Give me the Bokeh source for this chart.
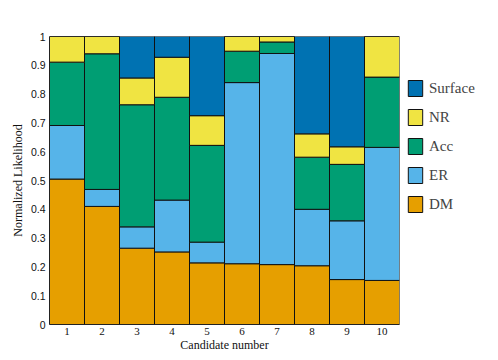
from bokeh.plotting import figure
from bokeh.models import Legend, LegendItem, FixedTicker, ColumnDataSource
from bokeh.embed import file_html
from bokeh.resources import INLINE

candidates = [1, 2, 3, 4, 5, 6, 7, 8, 9, 10]
series = ["DM", "ER", "Acc", "NR", "Surface"]
DM = [0.505, 0.410, 0.265, 0.252, 0.214, 0.211, 0.208, 0.204, 0.156, 0.153]
ER = [0.186, 0.059, 0.074, 0.180, 0.072, 0.629, 0.733, 0.196, 0.204, 0.462]
Acc = [0.220, 0.471, 0.424, 0.357, 0.336, 0.109, 0.040, 0.181, 0.196, 0.244]
NR = [0.089, 0.060, 0.093, 0.139, 0.103, 0.051, 0.019, 0.081, 0.061, 0.141]
Surface = [0.000, 0.000, 0.144, 0.072, 0.275, 0.000, 0.000, 0.338, 0.383, 0.000]
colors = ["#E69F00", "#56B4E9", "#009E73", "#F0E442", "#0072B2"]
y_ticks = [0, 0.1, 0.2, 0.3, 0.4, 0.5, 0.6, 0.7, 0.8, 0.9, 1]
y_tick_labels = ["0", "0.1", "0.2", "0.3", "0.4", "0.5", "0.6", "0.7", "0.8", "0.9", "1"]
x_tick_labels = ["1", "2", "3", "4", "5", "6", "7", "8", "9", "10"]

src = ColumnDataSource(dict(x=candidates, DM=DM, ER=ER, Acc=Acc, NR=NR, Surface=Surface))

p = figure(frame_width=350, frame_height=288, x_range=(0.5, 10.5), y_range=(0, 1),
           output_backend="svg", toolbar_location=None,
           min_border_left=49, min_border_top=36, min_border_right=0, min_border_bottom=36)
p.outline_line_color = None
p.xgrid.grid_line_color = None
p.ygrid.grid_line_color = None

renderers = p.vbar_stack(series, x="x", width=1.0, source=src, fill_color=colors,
                         line_color="#111111", line_width=1)

p.yaxis.ticker = FixedTicker(ticks=y_ticks)
p.yaxis.major_label_overrides = {t: l for t, l in zip(y_ticks, y_tick_labels)}
p.xaxis.ticker = FixedTicker(ticks=candidates)
p.xaxis.major_label_overrides = {c: l for c, l in zip(candidates, x_tick_labels)}
for ax in (p.xaxis[0], p.yaxis[0]):
    ax.major_tick_out = 0
    ax.major_tick_in = 0
    ax.minor_tick_out = 0
    ax.minor_tick_in = 0
    ax.axis_line_color = "#222222"
    ax.major_label_text_color = "#111111"
    ax.axis_label_text_color = "#111111"
    ax.axis_label_text_font_style = "normal"
p.yaxis.major_label_text_font = "Liberation Sans"
p.yaxis.major_label_text_font_size = "10.5px"
p.yaxis.major_label_standoff = 4
p.xaxis.major_label_text_font = "Liberation Serif"
p.xaxis.major_label_text_font_size = "11px"
p.xaxis.major_label_standoff = 3
p.xaxis.axis_label = "Candidate number"
p.yaxis.axis_label = "Normalized Likelihood"
p.xaxis.axis_label_text_font = "Liberation Serif"
p.yaxis.axis_label_text_font = "Liberation Serif"
p.xaxis.axis_label_text_font_size = "12px"
p.yaxis.axis_label_text_font_size = "12px"
p.xaxis.axis_label_standoff = 0
p.yaxis.axis_label_standoff = 3

order = [4, 3, 2, 1, 0]
items = [LegendItem(label=series[i], renderers=[renderers[i]]) for i in order]
legend = Legend(items=items, location=(7, 110), padding=0, margin=0, spacing=9,
                glyph_width=18, glyph_height=20, label_height=20, label_standoff=5,
                label_text_font="Liberation Serif", label_text_font_size="15px",
                border_line_color=None, background_fill_alpha=0)
p.add_layout(legend, "right")
p.min_border_right = 99

open("out.html", "w").write(file_html(p, INLINE))
